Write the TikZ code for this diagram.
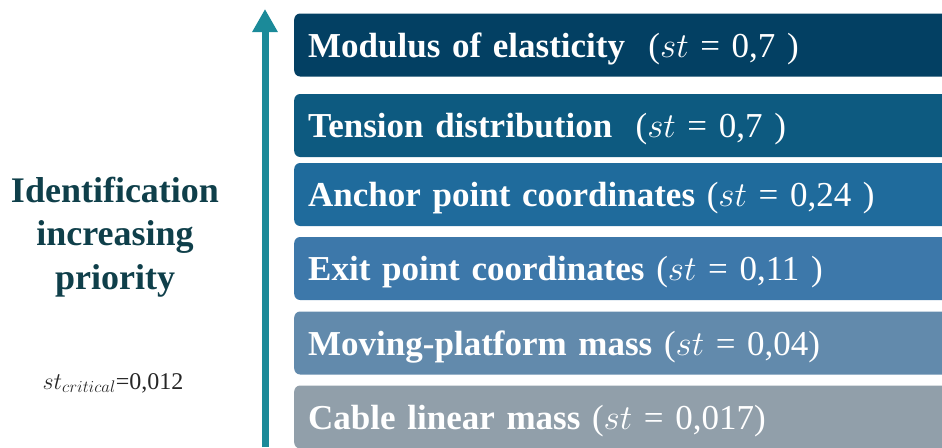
\documentclass[tikz,border=0pt]{standalone}
\usepackage{fix-cm}
\usepackage{fontspec}
\setmainfont{Liberation Serif}
\usetikzlibrary{arrows.meta}
\definecolor{cA}{HTML}{034063}
\definecolor{cB}{HTML}{0D5A80}
\definecolor{cC}{HTML}{1F6B9C}
\definecolor{cD}{HTML}{3D78AA}
\definecolor{cE}{HTML}{628AAC}
\definecolor{cF}{HTML}{919FAA}
\definecolor{arrowc}{HTML}{1B8A99}
\definecolor{titlec}{HTML}{0F3F4A}
\begin{document}
\begin{tikzpicture}[x=1pt,y=-1pt,
  barbox/.style={rounded corners=6pt, minimum height=63pt, text width=660pt, text height=29pt, text depth=5pt, inner xsep=14pt, inner ysep=0pt, anchor=west, text=white, align=left, font=\fontsize{35}{40}\selectfont},
  lbl/.style={font=\fontsize{36}{43.5}\selectfont\bfseries, text=titlec, align=center}]
\useasboundingbox (0,0) rectangle (942,447);
\clip (0,0) rectangle (942,447);
\node[barbox, fill=cA] (b1) at (294,45) {\textbf{Modulus of elasticity}\ \ ($st$ = 0,7 )};
\node[barbox, fill=cB] (b2) at (294,125.5) {\textbf{Tension distribution}\ \ ($st$ = 0,7 )};
\node[barbox, fill=cC] (b3) at (294,194.5) {\textbf{Anchor point coordinates} ($st$ = 0,24 )};
\node[barbox, fill=cD] (b4) at (294,268.5) {\textbf{Exit point coordinates} ($st$ = 0,11 )};
\node[barbox, fill=cE] (b5) at (294,343) {\textbf{Moving-platform mass} ($st$ = 0,04)};
\node[barbox, fill=cF] (b6) at (294,417) {\textbf{Cable linear mass} ($st$ = 0,017)};
\coordinate (abot) at (265,447);
\coordinate (atop) at (265,9);
\draw[arrowc, line width=7pt, -{Triangle[width=24pt,length=23pt]}] (abot) -- (atop);
\node[lbl] (title) at (115,237) {Identification\\increasing\\priority};
\node[anchor=base, font=\fontsize{24}{28}\selectfont, text=black!85] (crit) at (113,389) {$st_{critical}$=0,012};
\end{tikzpicture}
\end{document}
